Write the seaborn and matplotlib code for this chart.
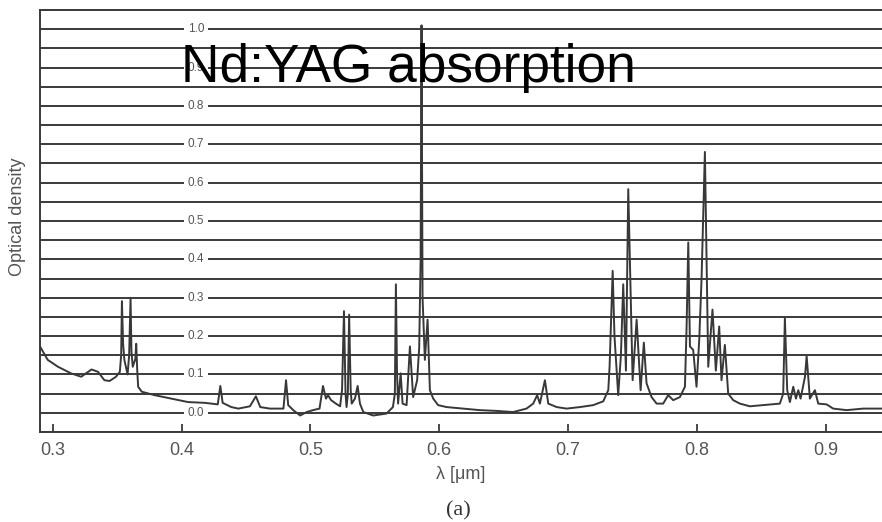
import numpy as np
import pandas as pd
import matplotlib
matplotlib.use("Agg")
import matplotlib.pyplot as plt
import seaborn as sns

# ---- data ----
wavelength = [
    0.2900, 0.2960, 0.3040, 0.3140, 0.3220, 0.3300, 0.3350, 0.3400, 0.3440, 0.3490,
    0.3520, 0.3530, 0.3536, 0.3545, 0.3555, 0.3580, 0.3592, 0.3603, 0.3610, 0.3620,
    0.3640, 0.3647, 0.3655, 0.3662, 0.3690, 0.3790, 0.3920, 0.4050, 0.4180, 0.4280,
    0.4300, 0.4318, 0.4385, 0.4440, 0.4530, 0.4576, 0.4610, 0.4685, 0.4790, 0.4810,
    0.4827, 0.4866, 0.4920, 0.4970, 0.5020, 0.5070, 0.5097, 0.5120, 0.5136, 0.5160,
    0.5197, 0.5230, 0.5245, 0.5260, 0.5272, 0.5280, 0.5290, 0.5300, 0.5312, 0.5320,
    0.5345, 0.5366, 0.5384, 0.5410, 0.5487, 0.5590, 0.5640, 0.5655, 0.5663, 0.5672,
    0.5680, 0.5700, 0.5715, 0.5746, 0.5772, 0.5797, 0.5828, 0.5844, 0.5855, 0.5862,
    0.5870, 0.5888, 0.5909, 0.5927, 0.5953, 0.5991, 0.6056, 0.6185, 0.6314, 0.6444,
    0.6573, 0.6677, 0.6729, 0.6760, 0.6781, 0.6820, 0.6846, 0.6911, 0.6988, 0.7092,
    0.7195, 0.7273, 0.7312, 0.7322, 0.7335, 0.7346, 0.7360, 0.7389, 0.7410, 0.7428,
    0.7449, 0.7467, 0.7501, 0.7532, 0.7563, 0.7588, 0.7609, 0.7648, 0.7687, 0.7738,
    0.7777, 0.7816, 0.7868, 0.7907, 0.7920, 0.7933, 0.7946, 0.7971, 0.7997, 0.8018,
    0.8036, 0.8062, 0.8088, 0.8121, 0.8147, 0.8173, 0.8191, 0.8217, 0.8243, 0.8282,
    0.8334, 0.8411, 0.8515, 0.8644, 0.8670, 0.8683, 0.8701, 0.8722, 0.8748, 0.8769,
    0.8787, 0.8805, 0.8839, 0.8852, 0.8877, 0.8916, 0.8942, 0.9007, 0.9058, 0.9162,
    0.9291, 0.9436,
]
optical_density = [
    0.173, 0.138, 0.120, 0.103, 0.094, 0.113, 0.107, 0.085, 0.083, 0.094,
    0.107, 0.150, 0.291, 0.180, 0.138, 0.100, 0.150, 0.300, 0.160, 0.120,
    0.140, 0.180, 0.110, 0.068, 0.055, 0.046, 0.037, 0.028, 0.026, 0.022,
    0.070, 0.026, 0.015, 0.011, 0.017, 0.043, 0.015, 0.011, 0.011, 0.085,
    0.020, 0.007, -0.007, 0.002, 0.007, 0.011, 0.070, 0.037, 0.046, 0.033,
    0.024, 0.017, 0.060, 0.265, 0.050, 0.015, 0.050, 0.256, 0.060, 0.024,
    0.037, 0.070, 0.024, 0.002, -0.007, -0.002, 0.015, 0.050, 0.335, 0.100,
    0.024, 0.103, 0.024, 0.020, 0.173, 0.041, 0.085, 0.170, 0.400, 1.010,
    0.300, 0.138, 0.243, 0.059, 0.037, 0.020, 0.015, 0.011, 0.007, 0.005,
    0.002, 0.011, 0.024, 0.046, 0.024, 0.085, 0.024, 0.015, 0.011, 0.015,
    0.020, 0.030, 0.059, 0.120, 0.260, 0.370, 0.200, 0.046, 0.150, 0.335,
    0.110, 0.583, 0.085, 0.243, 0.059, 0.183, 0.077, 0.041, 0.024, 0.024,
    0.046, 0.033, 0.041, 0.068, 0.225, 0.444, 0.173, 0.164, 0.068, 0.190,
    0.348, 0.680, 0.120, 0.269, 0.110, 0.225, 0.085, 0.177, 0.050, 0.033,
    0.024, 0.017, 0.020, 0.024, 0.050, 0.247, 0.059, 0.028, 0.068, 0.037,
    0.059, 0.037, 0.094, 0.148, 0.037, 0.059, 0.024, 0.022, 0.011, 0.007,
    0.011, 0.011,
]
x_ticks = [0.3, 0.4, 0.5, 0.6, 0.7, 0.8, 0.9]
x_tick_labels = ["0.3", "0.4", "0.5", "0.6", "0.7", "0.8", "0.9"]
y_label_values = [0.0, 0.1, 0.2, 0.3, 0.4, 0.5, 0.6, 0.7, 0.8, 0.9, 1.0]
y_label_texts = ["0.0", "0.1", "0.2", "0.3", "0.4", "0.5", "0.6", "0.7", "0.8", "0.9", "1.0"]
grid_values = [-0.05 + 0.05 * i for i in range(23)]

title_text = "Nd:YAG absorption"
x_label = "λ [μm]"
y_label = "Optical density"
panel_label = "(a)"

# ---- styling ----
sns.set_theme(style="white")
plt.rcParams["font.family"] = ["Liberation Sans", "DejaVu Sans"]

df = pd.DataFrame({"wavelength": wavelength, "od": optical_density})

fig = plt.figure(figsize=(8.82, 5.22), dpi=100)
ax = fig.add_axes([40 / 882, 90 / 522, 842 / 882, 422 / 522])

line_col = "#3a3a3a"
for g in grid_values:
    ax.axhline(g, color=line_col, lw=1.4, zorder=1)

sns.lineplot(data=df, x="wavelength", y="od", ax=ax, color="#383838",
             lw=1.4, sort=False, estimator=None, zorder=3)

ax.set_xlim(0.29, 0.9437)
ax.set_ylim(-0.05, 1.05)

for v, t in zip(y_label_values, y_label_texts):
    ax.text(0.411, v, t, ha="center", va="center", fontsize=8.5, color="#555555",
            bbox=dict(boxstyle="square,pad=0.3", fc="white", ec="none"), zorder=2)

ax.set_xticks(x_ticks)
ax.set_xticklabels(x_tick_labels)
ax.set_yticks([])
ax.tick_params(axis="x", direction="in", length=6, width=1.3, colors=line_col,
               labelcolor="#555555", labelsize=13, pad=7, bottom=True)

for side in ["left", "bottom", "top"]:
    ax.spines[side].set_visible(True)
    ax.spines[side].set_color(line_col)
    ax.spines[side].set_linewidth(1.4)
ax.spines["right"].set_visible(False)

ax.set_xlabel(x_label, fontsize=13, color="#555555", labelpad=5)
ax.set_ylabel("")

fig.text(18 / 882, (522 - 217) / 522, y_label, rotation=90, ha="center", va="center",
         fontsize=13, color="#555555")
fig.text(458 / 882, (522 - 511) / 522, panel_label, ha="center", va="center",
         fontsize=16, color="#333333", family=["Liberation Serif", "DejaVu Serif"])
fig.text(181 / 882, (522 - 82) / 522, title_text, ha="left", va="baseline",
         fontsize=38.3, color="black", zorder=10)

fig.savefig("out.png", dpi=100)
